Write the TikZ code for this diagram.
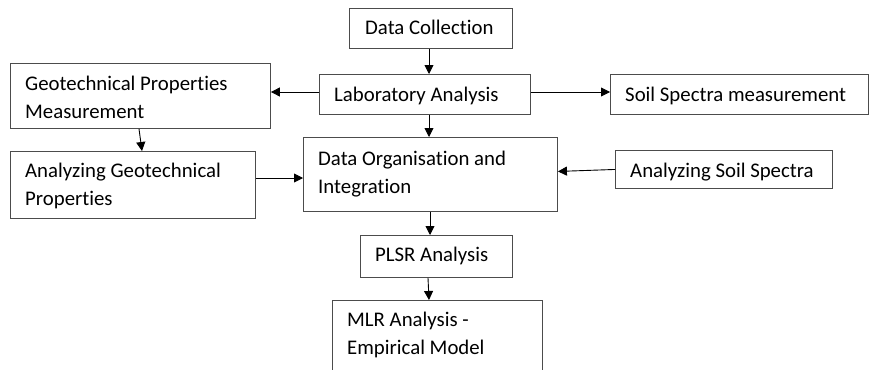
\documentclass[tikz,border=0pt]{standalone}
\usepackage{fontspec}
\setmainfont{Carlito}[Ligatures=NoCommon]
\usetikzlibrary{calc,arrows.meta}
\begin{document}
\begin{tikzpicture}[x=1pt,y=-1pt,
  box/.style={draw=black!70, line width=0.9pt, inner sep=0pt, anchor=north west, fill=white},
  txt/.style={anchor=base west, inner sep=0pt, align=left, font=\fontsize{20.8}{28}\selectfont, text=black},
  arr/.style={-{Triangle[length=9pt,width=9pt]}, line width=0.9pt, draw=black}]
\useasboundingbox (0,0) rectangle (869,369);
\begin{scope}
\clip (0,0) rectangle (869,369);
\node[box, minimum width=163pt, minimum height=40pt] (dc) at (349,8) {};
\node[box, minimum width=211pt, minimum height=40pt] (lab) at (319,74) {};
\node[box, minimum width=260pt, minimum height=65pt] (gpm) at (10,63) {};
\node[box, minimum width=245pt, minimum height=67pt] (agp) at (10,151) {};
\node[box, minimum width=254pt, minimum height=74pt] (dor) at (303,137) {};
\node[box, minimum width=258pt, minimum height=40pt] (ssm) at (610,74) {};
\node[box, minimum width=217pt, minimum height=38pt] (ass) at (615,150) {};
\node[box, minimum width=152pt, minimum height=42pt] (plsr) at (360,235) {};
\node[box, minimum width=210pt, minimum height=85pt] (mlr) at (332,300) {};
\end{scope}
\node[txt] (tdc) at ($(dc.north west)+(16,27)$) {Data Collection};
\node[txt] (tlab) at ($(lab.north west)+(15,27)$) {Laboratory Analysis};
\node[txt] (tgpm) at ($(gpm.north west)+(15,55.5)$) {Geotechnical Properties\\Measurement};
\node[txt] (tagp) at ($(agp.north west)+(15,54.5)$) {Analyzing Geotechnical\\Properties};
\node[txt] (tdor) at ($(dor.north west)+(15,56)$) {Data Organisation and\\Integration};
\node[txt] (tssm) at ($(ssm.north west)+(15,27)$) {Soil Spectra measurement};
\node[txt] (tass) at ($(ass.north west)+(15,27)$) {Analyzing Soil Spectra};
\node[txt] (tplsr) at ($(plsr.north west)+(15,26.5)$) {PLSR Analysis};
\node[txt] (tmlr) at ($(mlr.north west)+(15,54.5)$) {MLR Analysis -\\Empirical Model};
\coordinate (cA) at (429,0);
\coordinate (cB) at (430,0);
\coordinate (rA) at (0,92);
\coordinate (rB) at (0,178);
\draw[arr] (dc.south -| cA) -- (lab.north -| cA);
\draw[arr] (lab.south -| cA) -- (dor.north -| cA);
\draw[arr] (lab.west |- rA) -- (gpm.east |- rA);
\draw[arr] (lab.east |- rA) -- (ssm.west |- rA);
\draw[arr] ($(gpm.south west)+(129,0)$) -- ($(agp.north west)+(132,0)$);
\draw[arr] (agp.east |- rB) -- (dor.west |- rB);
\draw[arr] (ass.west) -- ($(dor.east)+(0,-3)$);
\draw[arr] (dor.south -| cB) -- (plsr.north -| cB);
\draw[arr] ($(plsr.south west)+(68,0)$) -- ($(mlr.north west)+(97,0)$);
\end{tikzpicture}
\end{document}
